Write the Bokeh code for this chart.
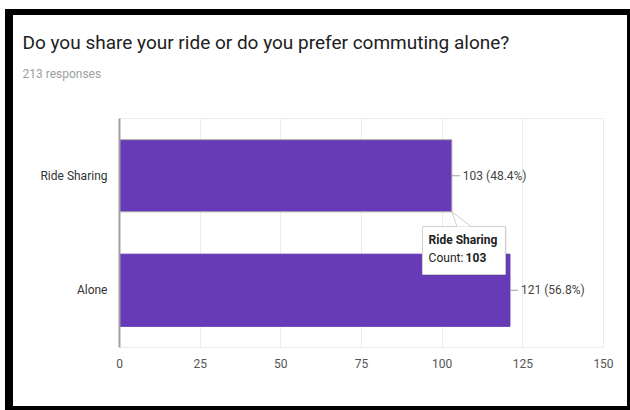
from bokeh.plotting import figure
from bokeh.models import FactorRange, Range1d, FixedTicker, Title
from bokeh.embed import file_html
from bokeh.resources import INLINE
from bokeh.core.properties import value

# ---- data ----
title_text = "Do you share your ride or do you prefer commuting alone?"
subtitle_text = "213 responses"
categories = ["Ride Sharing", "Alone"]
counts = [103, 121]
total_responses = 213
x_ticks = [0, 25, 50, 75, 100, 125, 150]
tooltip_category = "Ride Sharing"
tooltip_count = 103

value_labels = ["%d (%.1f%%)" % (c, 100.0 * c / total_responses) for c in counts]

FONT = "Roboto"
BAR_COLOR = "#673ab7"
BAR_H = 0.63
W, H = 630, 410
FRAME_L, FRAME_R, FRAME_T, FRAME_B = 119, 603, 118, 347
X_MAX = 150

frame_css = ("linear-gradient(#000,#000) 5px 9px / 8px 401px no-repeat, "
             "linear-gradient(#000,#000) 5px 9px / 625px 6px no-repeat, "
             "linear-gradient(#000,#000) 627px 9px / 3px 401px no-repeat, "
             "linear-gradient(#000,#000) 5px 406px / 625px 4px no-repeat, "
             "#ffffff")

p = figure(width=W, height=H,
           y_range=FactorRange(factors=categories[::-1]),
           x_range=Range1d(0, X_MAX),
           output_backend="svg", toolbar_location=None,
           min_border_left=FRAME_L, min_border_right=W - FRAME_R,
           min_border_top=FRAME_T, min_border_bottom=H - FRAME_B)
p.background_fill_color = "white"
p.border_fill_color = None
p.outline_line_color = "#ececec"
p.styles = {"background": frame_css}

p.hbar(y=categories, right=counts, height=BAR_H, fill_color=BAR_COLOR,
       line_color=["#a8a8a8", "#5e35b1"], line_width=1)

# leader lines and value labels
px_per_unit = (FRAME_R - FRAME_L) / float(X_MAX)
lead = 8.0 / px_per_unit
p.segment(x0=counts, y0=categories, x1=[c + lead for c in counts], y1=categories,
          line_color="#9e9e9e", line_width=1)
p.text(x=counts, y=categories, text=value_labels, x_offset=11,
       text_baseline="middle", text_align="left",
       text_font=value(FONT), text_font_size="12px", text_color="#444444")

# axes
p.xaxis.ticker = FixedTicker(ticks=x_ticks)
p.xgrid.ticker = FixedTicker(ticks=x_ticks)
p.xaxis.axis_line_color = None
p.xaxis.major_tick_line_color = None
p.xaxis.minor_tick_line_color = None
p.xaxis.major_label_standoff = 5
p.xaxis.major_label_text_font = FONT
p.xaxis.major_label_text_font_size = "12px"
p.xaxis.major_label_text_color = "#555555"
p.xgrid.grid_line_color = "#ebebeb"
p.ygrid.grid_line_color = None

p.yaxis.axis_line_color = "#a0a0a0"
p.yaxis.axis_line_width = 2
p.yaxis.major_tick_line_color = None
p.yaxis.minor_tick_line_color = None
p.yaxis.major_label_standoff = 6
p.yaxis.major_label_text_font = FONT
p.yaxis.major_label_text_font_size = "12px"
p.yaxis.major_label_text_color = "#333333"

# tooltip (static, anchored at the Ride Sharing bar end)
rs_center = categories[::-1].index(tooltip_category) + 0.5
apex_y = rs_center - BAR_H / 2
box_top = rs_center - 0.443
box_bot = rs_center - 0.862
v = tooltip_count
p.quad(left=[v - 9.1 + 0.4], right=[v + 16.6 + 0.4], top=[box_top - 0.012], bottom=[box_bot - 0.012],
       fill_color="#000000", fill_alpha=0.08, line_color=None)
p.quad(left=[v - 9.1], right=[v + 16.6], top=[box_top], bottom=[box_bot],
       fill_color="white", line_color="#cfcfcf", line_width=1)
p.patch(x=[v, v + 1.6, v + 6.0], y=[apex_y, box_top, box_top],
        fill_color="white", line_color=None)
p.segment(x0=[v, v], y0=[apex_y, apex_y], x1=[v + 1.6, v + 6.0], y1=[box_top, box_top],
          line_color="#cfcfcf", line_width=1)
p.text(x=[v - 7.2], y=[rs_center - 0.557], text=[tooltip_category],
       text_baseline="middle", text_font=value(FONT), text_font_size="12px",
       text_font_style="bold", text_color="#222222")
p.text(x=[v - 7.2], y=[rs_center - 0.714], text=["Count: "],
       text_baseline="middle", text_font=value(FONT), text_font_size="12px",
       text_color="#222222")
p.text(x=[v - 7.2], y=[rs_center - 0.714], text=[str(tooltip_count)], x_offset=37,
       text_baseline="middle", text_font=value(FONT), text_font_size="12px",
       text_font_style="bold", text_color="#222222")

# title and subtitle (stacked above the frame: subtitle nearest)
p.add_layout(Title(text=subtitle_text, align="left", offset=22 - FRAME_L, standoff=72,
                   vertical_align="top",
                   text_font=FONT, text_font_size="12px", text_font_style="normal",
                   text_color="#9e9e9e"), "above")
p.add_layout(Title(text=title_text, align="left", offset=22 - FRAME_L, standoff=-47,
                   vertical_align="bottom",
                   text_font=FONT, text_font_size="19px", text_font_style="normal",
                   text_color="#212121"), "above")

open("out.html", "w").write(file_html(p, INLINE))
